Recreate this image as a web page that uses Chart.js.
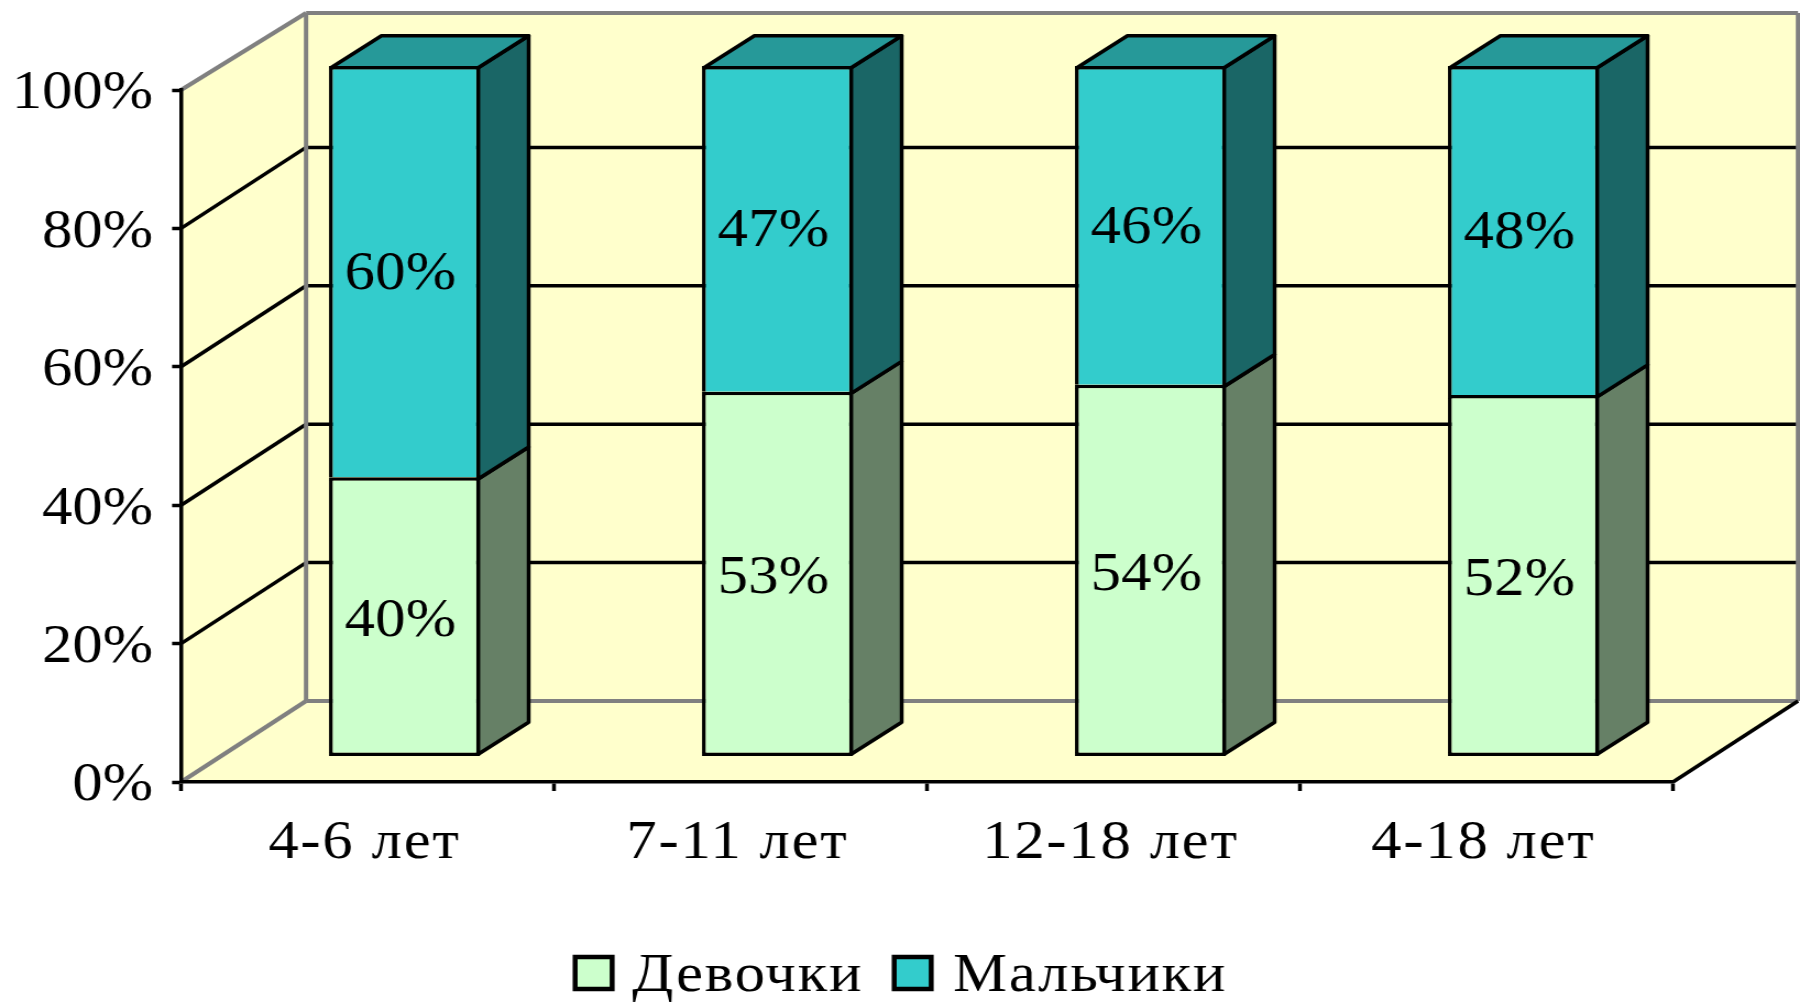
<!DOCTYPE html>
<html>
<head>
<meta charset="utf-8">
<style>
  html, body { margin: 0; padding: 0; background: #fff; overflow: hidden; }
</style>
<script src="https://cdn.jsdelivr.net/npm/chart.js@4"></script>
</head>
<body>
<canvas id="ageChart"></canvas>
<script>
const ageGroups = ['4-6 лет', '7-11 лет', '12-18 лет', '4-18 лет'];
const girls = [40.4, 52.8, 53.8, 52.3];
const boys = [59.6, 47.2, 46.2, 47.7];
const seriesNames = ['Девочки', 'Мальчики'];
const yTicks = [0, 20, 40, 60, 80, 100];

// the source picture is stretched sideways, so the canvas is too
const SX = 1.1;
const sx = v => v / SX;
const FONT = { family: '"Liberation Serif", serif', size: 55 };
const fontStr = FONT.size + 'px ' + FONT.family;

const colors = {
  wall: '#FFFFCC',
  wallLine: '#808080',
  front: ['#CCFFCC', '#33CCCC'],
  side: ['#668066', '#1A6666'],
  top: '#269999'
};

const canvas = document.getElementById('ageChart');
canvas.width = Math.round(1800 / SX);
canvas.height = 1002;
canvas.style.width = '1800px';
canvas.style.height = '1002px';

function line(ctx, color, width, x1, y1, x2, y2) {
  ctx.strokeStyle = color;
  ctx.lineWidth = width;
  ctx.beginPath();
  ctx.moveTo(x1, y1);
  ctx.lineTo(x2, y2);
  ctx.stroke();
}

function poly(ctx, fill, pts) {
  ctx.fillStyle = fill;
  ctx.strokeStyle = '#000';
  ctx.lineWidth = 3.5;
  ctx.lineJoin = 'round';
  ctx.beginPath();
  pts.forEach((p, i) => (i ? ctx.lineTo(p[0], p[1]) : ctx.moveTo(p[0], p[1])));
  ctx.closePath();
  ctx.fill();
  ctx.stroke();
}

// walls and floor behind the bars
const wallsPlugin = {
  id: 'walls',
  beforeDraw(chart) {
    const { ctx, scales: { x, y } } = chart;
    const dx = sx(125), dy = 81, topDy = 77;
    const l = x.left, r = x.right;
    const y0 = y.getPixelForValue(0), y100 = y.getPixelForValue(100);
    ctx.save();
    ctx.fillStyle = colors.wall;
    ctx.beginPath();
    ctx.moveTo(l, y0);
    ctx.lineTo(l, y100);
    ctx.lineTo(l + dx, y100 - topDy);
    ctx.lineTo(r + dx, y100 - topDy);
    ctx.lineTo(r + dx, y0 - dy);
    ctx.lineTo(r, y0);
    ctx.closePath();
    ctx.fill();

    yTicks.slice(1, -1).forEach(t => {
      const py = y.getPixelForValue(t);
      line(ctx, '#000', 3.5, l, py, l + dx, py - dy);
      line(ctx, '#000', 3.5, l + dx, py - dy, r + dx, py - dy);
    });
    line(ctx, colors.wallLine, 4, l, y100, l + dx, y100 - topDy);
    line(ctx, colors.wallLine, 4, l + dx, y100 - topDy, r + dx, y100 - topDy);
    line(ctx, colors.wallLine, 4, l + dx, y100 - topDy, l + dx, y0 - dy);
    line(ctx, colors.wallLine, 4, r + dx, y100 - topDy, r + dx, y0 - dy);
    line(ctx, colors.wallLine, 4, l + dx, y0 - dy, r + dx, y0 - dy);
    line(ctx, colors.wallLine, 4, l, y0, l + dx, y0 - dy);
    line(ctx, '#000', 3.5, r, y0, r + dx, y0 - dy);
    ctx.restore();
  }
};

// side and top faces, plus the shift of the bars into the floor
const barShift = sx(37);
const depthX = sx(50.5), depthY = 32;
const inset = 1.75;
const boxesPlugin = {
  id: 'boxes',
  beforeDatasetsDraw(chart) {
    const { ctx } = chart;
    ctx.save();
    chart.data.datasets.forEach((ds, d) => {
      chart.getDatasetMeta(d).data.forEach(bar => {
        const left = bar.x - bar.width / 2 + barShift + inset;
        const right = bar.x + bar.width / 2 + barShift - inset;
        const top = bar.y + inset;
        // the upper box starts on the top line of the lower one
        const base = d > 0 ? bar.base + inset : bar.base - inset;
        poly(ctx, colors.side[d], [
          [right, top], [right + depthX, top - depthY],
          [right + depthX, base - depthY], [right, base]
        ]);
        if (d === chart.data.datasets.length - 1) {
          poly(ctx, colors.top, [
            [left, top], [left + depthX, top - depthY],
            [right + depthX, top - depthY], [right, top]
          ]);
        }
      });
    });
    ctx.restore();
    ctx.save();
    ctx.translate(barShift, 0);
  },
  afterDatasetsDraw(chart) {
    const { ctx } = chart;
    ctx.restore();
    ctx.save();
    ctx.font = fontStr;
    ctx.letterSpacing = '0.3px';
    ctx.fillStyle = '#000';
    ctx.textAlign = 'center';
    ctx.textBaseline = 'middle';
    const nudge = [5, 3];
    chart.data.datasets.forEach((ds, d) => {
      chart.getDatasetMeta(d).data.forEach((bar, i) => {
        ctx.fillText(Math.round(ds.data[i]) + '%', bar.x + barShift - sx(4), (bar.y + bar.base) / 2 + nudge[d]);
      });
    });
    ctx.restore();
  }
};

const legendPlugin = {
  id: 'bottomLegend',
  afterDraw(chart) {
    const { ctx } = chart;
    const boxX = [575, 894], textX = [632, 953];
    ctx.save();
    ctx.font = fontStr;
    ctx.letterSpacing = '1.7px';
    ctx.textBaseline = 'alphabetic';
    ctx.textAlign = 'left';
    chart.data.datasets.forEach((ds, d) => {
      ctx.fillStyle = colors.front[d];
      ctx.strokeStyle = '#000';
      ctx.lineWidth = 4.5;
      ctx.fillRect(sx(boxX[d]), 957, sx(37), 32);
      ctx.strokeRect(sx(boxX[d]), 957, sx(37), 32);
      ctx.fillStyle = '#000';
      ctx.fillText(ds.label, sx(textX[d]), 991);
    });
    ctx.restore();
  }
};

// small corrections of the tick text the scale options can't do
const tickTextPlugin = {
  id: 'tickText',
  afterLayout(chart) {
    const { ctx, scales: { x, y } } = chart;
    y.getLabelItems().forEach(item => { item.options.translation[1] += 4; });
    x.getLabelItems().forEach(item => { item.options.translation[0] -= sx(3); });
    if (!x._spaced) {
      const drawLabels = x.drawLabels;
      x.drawLabels = function (area) {
        ctx.letterSpacing = '1.7px';
        drawLabels.call(this, area);
        ctx.letterSpacing = '0px';
      };
      x._spaced = true;
    }
  }
};

new Chart(canvas, {
  type: 'bar',
  data: {
    labels: ageGroups,
    datasets: [
      { label: seriesNames[0], data: girls, backgroundColor: colors.front[0], borderSkipped: false },
      { label: seriesNames[1], data: boys, backgroundColor: colors.front[1], borderSkipped: 'bottom' }
    ].map(ds => ({
      ...ds,
      yAxisID: 'yBars',
      borderColor: '#000',
      borderWidth: 3.5,
      categoryPercentage: 1,
      barPercentage: 0.405,
      clip: false
    }))
  },
  options: {
    responsive: false,
    animation: false,
    devicePixelRatio: 1,
    layout: { padding: { top: 90, right: sx(1800 - 1673), left: 0, bottom: 0 } },
    plugins: {
      legend: { display: false },
      tooltip: { enabled: false }
    },
    scales: {
      x: {
        stacked: true,
        afterFit: s => { s.height = 1002 - 782; },
        border: { color: '#000', width: 3.5 },
        grid: { drawOnChartArea: false, tickLength: 9, tickColor: '#000', tickWidth: 3.5 },
        ticks: { color: '#000', font: FONT, padding: 20, maxRotation: 0 }
      },
      y: {
        min: 0,
        max: 100,
        afterBuildTicks: s => { s.ticks = yTicks.map(v => ({ value: v })); },
        afterFit: s => { s.width = sx(181); },
        border: { color: '#000', width: 3.5 },
        grid: { drawOnChartArea: false, tickLength: sx(9), tickColor: '#000', tickWidth: 3.5 },
        ticks: { color: '#000', font: FONT, padding: sx(19), callback: v => v + '%' }
      },
      // bars stand inside the box, a bit above the front edge of the floor
      yBars: {
        display: false,
        stacked: true,
        min: -3.77,
        max: 96.52
      }
    }
  },
  plugins: [wallsPlugin, boxesPlugin, legendPlugin, tickTextPlugin]
});
</script>
</body>
</html>
